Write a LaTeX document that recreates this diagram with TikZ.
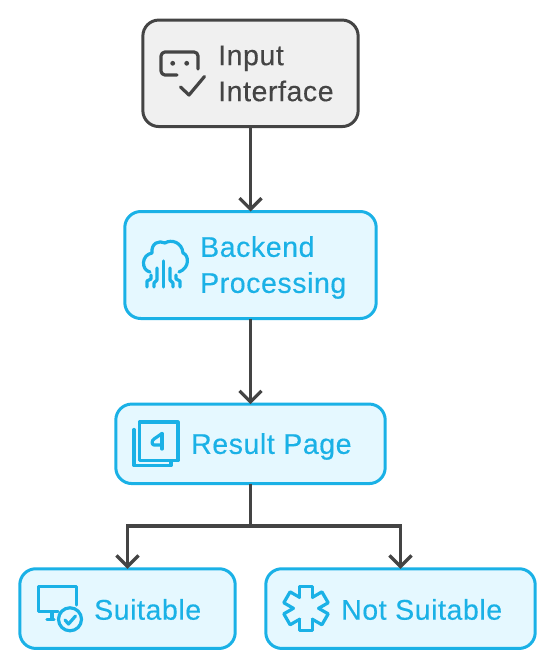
\documentclass[tikz,border=0pt]{standalone}
\usepackage{fontspec}
\setmainfont[FakeBold=0.35,LetterSpace=2]{Liberation Sans}
\usetikzlibrary{arrows.meta}

\definecolor{edgegray}{HTML}{444444}
\definecolor{boxblue}{HTML}{1AB1E6}
\definecolor{fillblue}{HTML}{E5F8FF}
\definecolor{fillgray}{HTML}{F0F0F0}

\tikzset{
    box/.style={draw,rectangle,rounded corners=16pt,line width=3pt,outer sep=0pt},
    bluebox/.style={box,draw=boxblue,fill=fillblue},
    graybox/.style={box,draw=edgegray,fill=fillgray},
    label/.style={anchor=west,inner sep=0pt,align=left,font=\fontsize{28.5}{36}\selectfont},
    iconblue/.style={draw=boxblue,line width=3.2pt,line cap=round,line join=round},
    icongray/.style={draw=edgegray,line width=3.2pt,line cap=round,line join=round},
    flow/.style={draw=edgegray,line width=3.2pt,-{Straight Barb[length=11pt,width=22pt,line width=3.2pt]}}
}

\begin{document}
\begin{tikzpicture}[x=1pt,y=-1pt]
    \useasboundingbox (0,0) rectangle (555,669);

    % boxes
    \node[graybox,minimum width=215.3pt,minimum height=106.5pt] (input) at (250.5,73.3) {};
    \node[bluebox,minimum width=251.4pt,minimum height=107pt] (backend) at (250.5,265) {};
    \node[bluebox,minimum width=269.4pt,minimum height=79.5pt] (result) at (250.5,443.8) {};
    \node[bluebox,minimum width=215.4pt,minimum height=79.7pt] (suitable) at (127.5,608.6) {};
    \node[bluebox,minimum width=269.4pt,minimum height=79.7pt] (notsuitable) at (400.5,608.6) {};

    % labels
    \node[label,text=edgegray] (inputtext) at (218,73.5) {Input\\Interface};
    \node[label,text=boxblue] (backendtext) at (200,267.5) {Backend\\Processing};
    \node[label,text=boxblue] (resulttext) at (191,446.5) {Result Page};
    \node[label,text=boxblue] (suitabletext) at (94,609.5) {Suitable};
    \node[label,text=boxblue] (notsuitabletext) at (341,609.5) {Not Suitable};

    % connectors
    \coordinate (split) at (250.5,526);
    \draw[flow] (input.south) -- (backend.north);
    \draw[flow] (backend.south) -- (result.north);
    \draw[line width=3.2pt,draw=edgegray] (result.south) -- (split);
    \draw[flow] (split) -| (suitable.north);
    \draw[flow] (split) -| (notsuitable.north);

    % input icon
    \draw[icongray] (198,69) -- (198,56) arc[start angle=0,end angle=-90,radius=4] -- (165,52)
        arc[start angle=-90,end angle=-180,radius=4] -- (161,71) arc[start angle=180,end angle=90,radius=4] -- (177,75);
    \fill[edgegray] (172.7,63.3) circle (2.4) (186.7,63.3) circle (2.4);
    \draw[icongray] (180.5,87) -- (189,95) -- (204.5,76.5);

    % backend icon
    \draw[iconblue] (150,272) .. controls (141,270) and (141,255) .. (152,253)
        .. controls (151,243) and (159,240) .. (165,243)
        .. controls (171,239) and (182,242) .. (183,253)
        .. controls (189,255) and (190,268) .. (179,272);
    \draw[iconblue] (163.5,261) -- (163.5,287);
    \draw[iconblue] (157,268) -- (157,280) -- (154,283) -- (154,287);
    \draw[iconblue] (170,268) -- (170,280) -- (173,283) -- (173,287);
    \draw[iconblue] (151,275) -- (151,279) -- (147,281) -- (147,287);
    \draw[iconblue] (176,275) -- (176,279) -- (180,281) -- (180,287);

    % result icon
    \draw[iconblue] (139.5,422) rectangle (178,460.5);
    \draw[iconblue] (134,429.5) -- (134,465.5) -- (171,465.5) -- (171,461);
    \draw[iconblue] (162,433.5) -- (154,439) .. controls (151,441) and (152,445) .. (154,445) -- (162,445);
    \draw[iconblue] (162,433.5) -- (162,449);

    % suitable icon
    \draw[iconblue] (58,611.7) -- (38.3,611.7) -- (38.3,586.7) -- (76.7,586.7) -- (76.7,605);
    \draw[iconblue] (47,619.5) -- (54,619.5) (52,612) -- (52,619);
    \draw[iconblue] (70,619.3) circle (11.5);
    \draw[iconblue] (65,620) -- (68.5,624) -- (75.5,616);

    % not suitable icon
    \foreach \a in {0,60,...,300} {
        \draw[iconblue,shift={(306,608.3)},rotate=\a] (-6.3,-10.9) -- (-6.3,-22) -- (6.3,-22) -- (6.3,-10.9);
    }
\end{tikzpicture}
\end{document}
